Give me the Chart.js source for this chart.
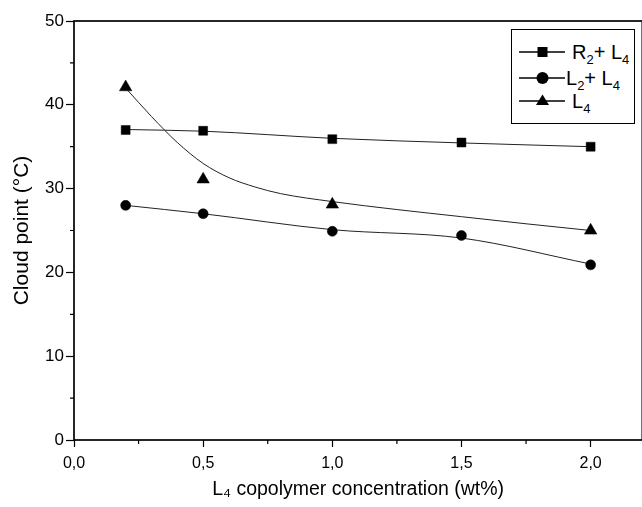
<!DOCTYPE html>
<html>
<head>
<meta charset="utf-8">
<script src="https://cdn.jsdelivr.net/npm/chart.js@4/dist/chart.umd.min.js"></script>
<style>
html, body { margin: 0; padding: 0; background: #fff; overflow: hidden; width: 642px; height: 507px; }
#wrap { position: relative; width: 650px; height: 507px; }
#legend { position: absolute; left: 511px; top: 29px; width: 122px; height: 93px; border: 1.3px solid #000; background: #fff;
  font-family: "Liberation Sans", Arial, sans-serif; font-size: 20px; color: #000; }
.row { position: absolute; left: 0; width: 122px; height: 24px; }
.row svg { position: absolute; left: 0; top: 0; }
.row span { position: absolute; top: 0; line-height: 24px; white-space: nowrap; }
sub { font-size: 13px; vertical-align: -5px; line-height: 0; }
</style>
</head>
<body>
<div id="wrap">
  <canvas id="chart" width="650" height="507"></canvas>
  <div id="legend">
    <div class="row" style="top:10px">
      <svg width="56" height="24"><line x1="7" y1="12" x2="53" y2="12" stroke="#000" stroke-width="1.3"/><rect x="25.5" y="7" width="10" height="10" fill="#000"/></svg>
      <span style="left:60px">R<sub>2</sub>+ L<sub>4</sub></span>
    </div>
    <div class="row" style="top:36px">
      <svg width="56" height="24"><line x1="7" y1="12" x2="53" y2="12" stroke="#000" stroke-width="1.3"/><circle cx="30.5" cy="12" r="6" fill="#000"/></svg>
      <span style="left:54px">L<sub>2</sub>+ L<sub>4</sub></span>
    </div>
    <div class="row" style="top:59px">
      <svg width="56" height="24"><line x1="7" y1="12" x2="53" y2="12" stroke="#000" stroke-width="1.3"/><polygon points="30.5,5.5 37,16 24,16" fill="#000"/></svg>
      <span style="left:60px">L<sub>4</sub></span>
    </div>
  </div>
</div>
<script>
var concR2 = [0.2, 0.5, 1.0, 1.5, 2.0];
var cloudR2 = [37, 36.9, 35.9, 35.5, 35];
var concL2 = [0.2, 0.5, 1.0, 1.5, 2.0];
var cloudL2 = [28, 27, 24.9, 24.4, 20.9];
var concL4 = [0.2, 0.5, 1.0, 2.0];
var cloudL4 = [42.1, 31.1, 28.1, 25];

// fitted curves
var fitR2x = [0.2, 0.5, 1.0, 1.5, 2.0];
var fitR2y = [37.05, 36.85, 36.0, 35.45, 35.0];
var fitL2x = [0.2, 0.5, 1.0, 1.5, 2.0];
var fitL2y = [28, 27, 25.1, 24.1, 21];
var fitL4x = [0.2, 0.3, 0.4, 0.5, 0.6, 0.7, 0.8, 1.0, 1.25, 1.5, 1.75, 2.0];
var fitL4y = [42, 38.6, 35.5, 33, 31.3, 30.2, 29.4, 28.45, 27.5, 26.65, 25.8, 25];

var xTicks = [0, 0.5, 1.0, 1.5, 2.0];
var yTicks = [0, 10, 20, 30, 40, 50];
var xMinor = [0.25, 0.75, 1.25, 1.75];
var yMinor = [5, 15, 25, 35, 45];

function pts(xs, ys) {
    var out = [];
    for (var i = 0; i < xs.length; i++) out.push({x: xs[i], y: ys[i]});
    return out;
}

var font = "'Liberation Sans', Arial, sans-serif";

var frame = {
    id: 'frame',
    afterDraw: function(chart) {
        var ctx = chart.ctx, a = chart.chartArea;
        var xs = chart.scales.x, ys = chart.scales.y;
        ctx.save();
        ctx.strokeStyle = '#000';
        ctx.lineWidth = 1.7;
        ctx.strokeRect(a.left, a.top, a.right - a.left, a.bottom - a.top);
        ctx.lineWidth = 1.2;
        ctx.beginPath();
        xMinor.forEach(function(v) {
            var px = xs.getPixelForValue(v);
            ctx.moveTo(px, a.bottom); ctx.lineTo(px, a.bottom + 4);
        });
        yMinor.forEach(function(v) {
            var py = ys.getPixelForValue(v);
            ctx.moveTo(a.left, py); ctx.lineTo(a.left - 4, py);
        });
        ctx.stroke();
        ctx.restore();
    }
};

new Chart(document.getElementById('chart'), {
    type: 'scatter',
    data: {
        datasets: [
            { data: pts(concR2, cloudR2), pointStyle: 'rect', pointRadius: 6.3, backgroundColor: '#000', borderColor: '#000', borderWidth: 0.5, showLine: false },
            { data: pts(concL2, cloudL2), pointStyle: 'circle', pointRadius: 5, backgroundColor: '#000', borderColor: '#000', borderWidth: 0.5, showLine: false },
            { data: pts(concL4, cloudL4), pointStyle: 'triangle', pointRadius: 7.2, backgroundColor: '#000', borderColor: '#000', borderWidth: 0.5, showLine: false },
            { data: pts(fitR2x, fitR2y), showLine: true, pointRadius: 0, borderColor: '#222', borderWidth: 1, cubicInterpolationMode: 'monotone' },
            { data: pts(fitL2x, fitL2y), showLine: true, pointRadius: 0, borderColor: '#222', borderWidth: 1, cubicInterpolationMode: 'monotone' },
            { data: pts(fitL4x, fitL4y), showLine: true, pointRadius: 0, borderColor: '#222', borderWidth: 1, cubicInterpolationMode: 'monotone' }
        ]
    },
    options: {
        responsive: false,
        animation: false,
        layout: { padding: { top: 21, right: 3, left: 0, bottom: 0 } },
        plugins: { legend: { display: false }, tooltip: { enabled: false } },
        scales: {
            x: {
                type: 'linear', min: 0, max: 2.2,
                afterBuildTicks: function(s) { s.ticks = xTicks.map(function(v) { return {value: v}; }); },
                afterFit: function(s) { s.height = 67; },
                grid: { drawOnChartArea: false, tickLength: 7, tickColor: '#000', tickWidth: 1.2 },
                border: { display: false },
                ticks: { color: '#000', padding: 7, maxRotation: 0, font: { family: font, size: 16 },
                    callback: function(v) { return v.toFixed(1).replace('.', ','); } },
                title: { display: true, text: 'L\u2084 copolymer concentration (wt%)', color: '#000',
                    font: { family: font, size: 19.5 }, padding: { top: 0, bottom: 6 } }
            },
            y: {
                min: 0, max: 50,
                afterBuildTicks: function(s) { s.ticks = yTicks.map(function(v) { return {value: v}; }); },
                afterFit: function(s) { s.width = 74; },
                grid: { drawOnChartArea: false, tickLength: 8, tickColor: '#000', tickWidth: 1.2 },
                border: { display: false },
                ticks: { color: '#000', padding: 2, font: { family: font, size: 17 } },
                title: { display: true, text: 'Cloud point (\u00b0C)', color: '#000',
                    font: { family: font, size: 21 }, padding: { top: 10, bottom: 0 } }
            }
        }
    },
    plugins: [frame]
});
</script>
</body>
</html>
